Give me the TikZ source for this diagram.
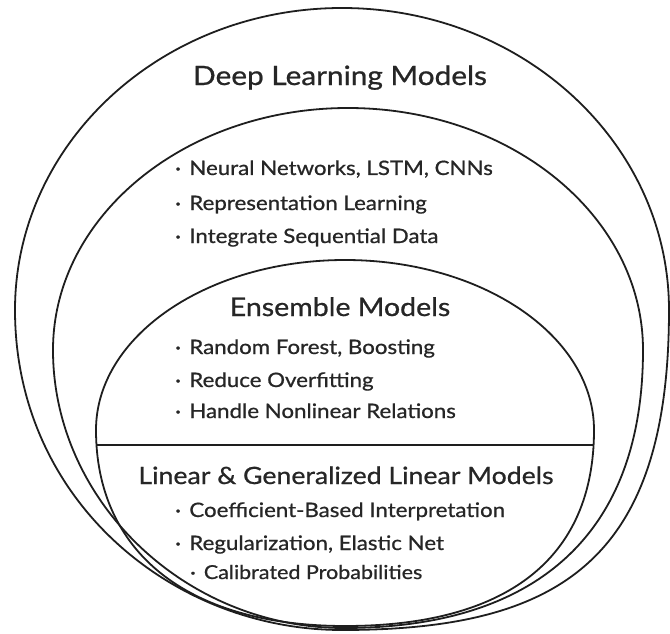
\documentclass[tikz,border=0pt]{standalone}
\usepackage{fontspec}
\setmainfont{Lato}[FakeStretch=1.12,FakeBold=0.8]
\definecolor{ink}{HTML}{1E1E1E}
\definecolor{txt}{HTML}{262626}
\newcommand\dotmark{\textperiodcentered\hspace{0.42em}}
\begin{document}
\begin{tikzpicture}[x=1pt,y=-1pt,
  ring/.style={draw=ink,line width=1.8pt},
  divider/.style={draw=ink,line width=1.3pt},
  heading/.style={text=txt,inner sep=0pt,anchor=base},
  item/.style={text=txt,inner sep=0pt,anchor=base west,font=\fontsize{19.9}{22}\selectfont}]
\useasboundingbox (0,0) rectangle (670,634);

% outer ring: deep learning
\draw[ring] (15,310) .. controls (15,143.2) and (161.4,8) .. (342,8)
  .. controls (522.6,8) and (669,143.2) .. (669,310)
  .. controls (669,560) and (560,630) .. (342,630)
  .. controls (172,630) and (15,500) .. cycle;

% middle ring
\draw[ring] (53,350) .. controls (53,216.3) and (185.1,108) .. (348,108)
  .. controls (510.9,108) and (643,216.3) .. (643,350)
  .. controls (643,540) and (530,628) .. (344,628)
  .. controls (184,628) and (53,500) .. cycle;

% inner ring: ensemble over linear
\def\innerring{(96,430) .. controls (96,336.1) and (207.5,260) .. (345,260)
  .. controls (482.5,260) and (594,336.1) .. (594,430)
  .. controls (594,560) and (505,626) .. (345,626)
  .. controls (185,626) and (96,550) .. cycle}
\draw[ring] \innerring;
\begin{scope}
  \clip \innerring;
  \draw[divider] (0,445) -- (670,445);
\end{scope}

% headings
\node[heading,font=\fontsize{26.6}{30}\selectfont] (dl) at (340,85) {Deep Learning Models};
\node[heading,font=\fontsize{25.5}{28}\selectfont] (ens) at (340,316) {Ensemble Models};
\node[heading,font=\fontsize{23.8}{26}\selectfont] (lin) at (346,484) {Linear \& Generalized Linear Models};

% bullet lists
\node[item] (dl1) at (175,175) {\dotmark Neural Networks, LSTM, CNNs};
\node[item] (dl2) at (175,210) {\dotmark Representation Learning};
\node[item] (dl3) at (175,243) {\dotmark Integrate Sequential Data};
\node[item] (en1) at (175,354) {\dotmark Random Forest, Boosting};
\node[item] (en2) at (175,387) {\dotmark Reduce Overfitting};
\node[item] (en3) at (175,418) {\dotmark Handle Nonlinear Relations};
\node[item] (ln1) at (175,517) {\dotmark Coefficient-Based Interpretation};
\node[item] (ln2) at (175,550) {\dotmark Regularization, Elastic Net};
\node[item,font=\fontsize{19.2}{22}\selectfont] (ln3) at (190,579) {\dotmark Calibrated Probabilities};
\end{tikzpicture}
\end{document}
